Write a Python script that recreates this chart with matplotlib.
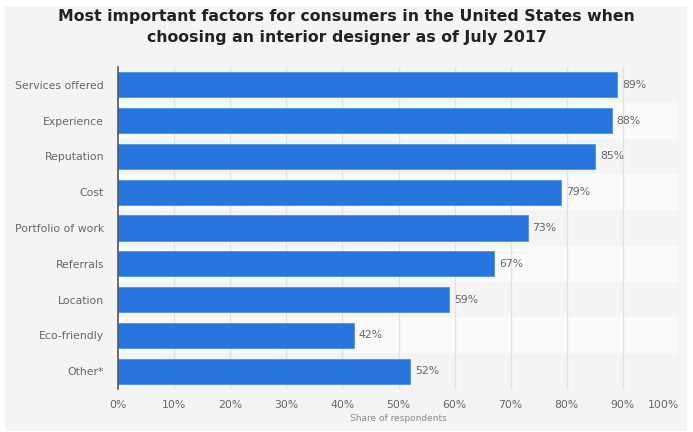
import matplotlib.pyplot as plt
from matplotlib.patches import Rectangle

factors = ["Services offered", "Experience", "Reputation", "Cost",
           "Portfolio of work", "Referrals", "Location", "Eco-friendly", "Other*"]
shares = [89, 88, 85, 79, 73, 67, 59, 42, 52]
ticks = [0, 10, 20, 30, 40, 50, 60, 70, 80, 90, 100]
tick_labels = [f"{t}%" for t in ticks]

bar_color = "#2876dd"
text_gray = "#666666"

fig = plt.figure(figsize=(6.93, 4.32), dpi=100)
fig.patch.set_facecolor("white")
fig.patches.append(Rectangle((5 / 693, 1 / 432), 682 / 693, 425 / 432,
                             transform=fig.transFigure, facecolor="#f4f4f4",
                             edgecolor="none", zorder=-1))

ax = fig.add_axes([118 / 693, 1 - 389 / 432, 561 / 693, 322 / 432])
ax.set_facecolor("none")

ypos = list(range(len(factors)))
for i in ypos:
    if i % 2 == 1:
        ax.axhspan(i - 0.5, i + 0.5, color="#fafafa", zorder=0, lw=0)

for t in ticks[1:]:
    ax.axvline(t, color="#e2e2e2", lw=1, zorder=1)

ax.barh(ypos, shares, height=0.7, color=bar_color, edgecolor="#4d8fe6",
        linewidth=0.6, zorder=2)
for y, v in zip(ypos, shares):
    ax.text(v + 0.9, y, f"{v}%", va="center", ha="left", fontsize=7.8,
            color=text_gray, zorder=3)

ax.set_xlim(0, 100)
ax.set_ylim(len(factors) - 0.5, -0.5)
ax.set_yticks(ypos)
ax.set_yticklabels(factors, fontsize=7.8, color=text_gray)
ax.set_xticks(ticks)
ax.set_xticklabels(tick_labels, fontsize=7.8, color=text_gray)
# keep the last tick label inside the panel
ax.get_xticklabels()[-1].set_horizontalalignment("right")
ax.tick_params(length=0, pad=8)
ax.tick_params(axis="y", pad=10)
for s in ["top", "right", "bottom"]:
    ax.spines[s].set_visible(False)
ax.spines["left"].set_color("#555555")
ax.spines["left"].set_linewidth(1.2)
ax.spines["left"].set_zorder(4)

ax.set_xlabel("Share of respondents", fontsize=6.5, color="#888888", labelpad=3)

fig.text(0.5, 1 - 27 / 432,
         "Most important factors for consumers in the United States when\n"
         "choosing an interior designer as of July 2017",
         ha="center", va="center", fontsize=11.3, fontweight="bold",
         color="#222222", linespacing=1.5)

fig.savefig("out.png", dpi=100)
